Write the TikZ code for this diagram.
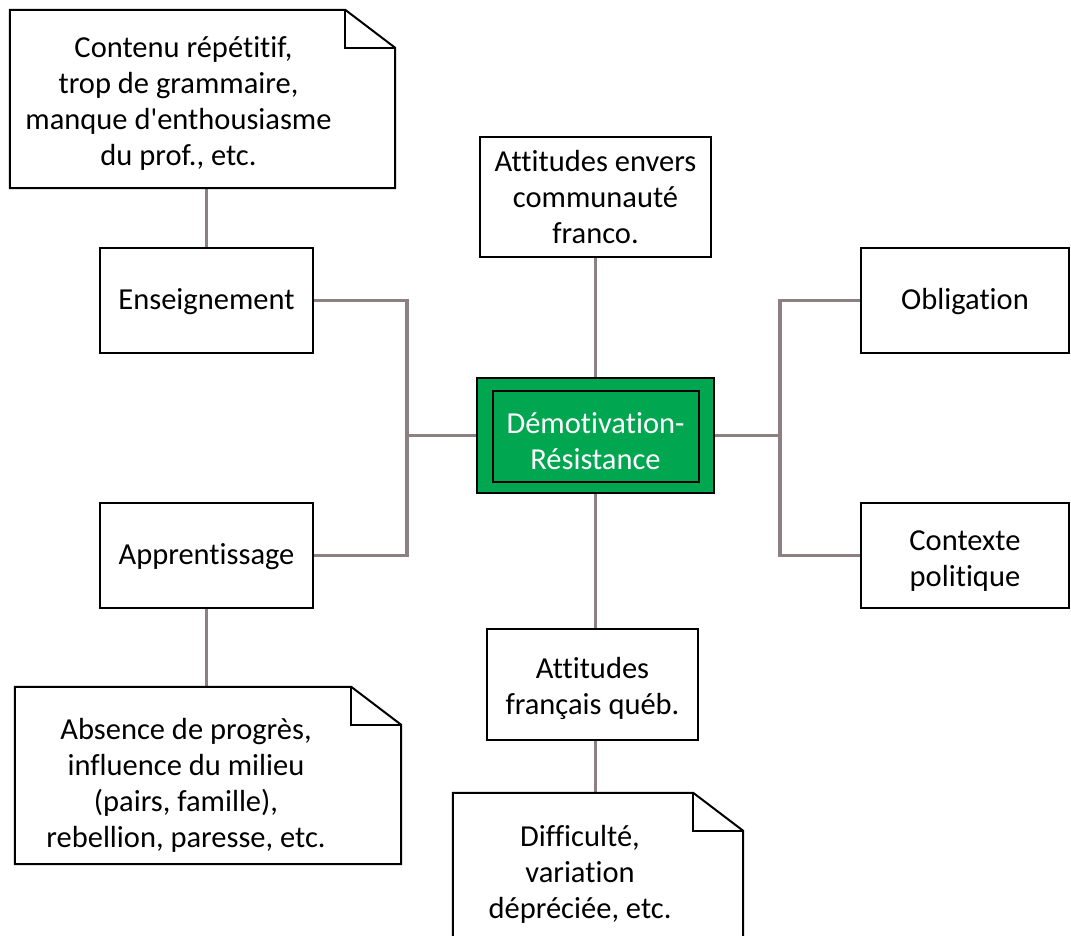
\documentclass[tikz,border=0pt]{standalone}
\usepackage{fontspec}
\setmainfont{Carlito}[Ligatures={NoCommon}]
\usetikzlibrary{positioning,backgrounds}
\definecolor{linkgray}{RGB}{140,128,130}
\definecolor{demgreen}{RGB}{0,166,80}

% dog-eared outline round a note node
\newcommand{\dogear}[1]{%
  \draw[boxline, fill=white] (#1.north west) -- ([xshift=-50pt]#1.north east)
    -- ([yshift=-38pt]#1.north east) -- (#1.south east) -- (#1.south west) -- cycle;
  \draw[boxline] ([xshift=-50pt]#1.north east) |- ([yshift=-38pt]#1.north east);
}
% extra room above the first line of a box
\newcommand{\boxstrut}{\rule{0pt}{30pt}}

\begin{document}
\begin{tikzpicture}[
    x=1pt, y=-1pt,
    font=\fontsize{30.5}{36}\selectfont,
    boxline/.style={draw=black, line width=2pt, line join=miter},
    box/.style={rectangle, boxline, fill=white, inner sep=0pt, align=center},
    notebox/.style={rectangle, inner sep=0pt, align=center},
    notetext/.style={align=center, inner sep=0pt},
    link/.style={draw=linkgray, line width=3.5pt}
]
    \useasboundingbox (0,0) rectangle (1071,936);

    % centre
    \node[box, fill=demgreen, minimum width=237pt, minimum height=115pt] (dem) at (595.5,435.5) {};
    \node[box, fill=demgreen, minimum width=206pt, minimum height=91pt, text=white] (deminner) at ([yshift=-1pt]dem) {\boxstrut Démotivation-\\Résistance};

    % left branch
    \node[box, minimum width=213pt, minimum height=105pt] (ens) at (206.5,300.5) {\rule{0pt}{24pt}Enseignement};
    \node[box, minimum width=213pt, minimum height=105pt] (appr) at (206.5,555.5) {\rule{0pt}{24pt}Apprentissage};

    % right branch
    \node[box, minimum width=208pt, minimum height=105pt] (obl) at (965,300.5) {\rule{0pt}{24pt}Obligation};
    \node[box, minimum width=208pt, minimum height=105pt] (ctx) at (965,555.5) {\boxstrut Contexte\\politique};

    % top and bottom
    \node[box, minimum width=231pt, minimum height=120pt] (attenv) at (595.5,197) {Attitudes envers\\communauté\\franco.};
    \node[box, minimum width=211pt, minimum height=111pt] (attfr) at (592.5,684.5) {\boxstrut Attitudes\\français québ.};

    % notes
    \node[notebox, minimum width=385pt, minimum height=178pt] (notecont) at (202.5,99) {};
    \dogear{notecont}
    \node[notetext] (notecontt) at ([xshift=-24pt, yshift=-4pt]notecont) {\hspace*{10pt}Contenu répétitif,\\trop de grammaire,\\manque d\textquotesingle enthousiasme\\du prof., etc.};

    \node[notebox, minimum width=386pt, minimum height=177pt] (noteabs) at (208,775.5) {};
    \dogear{noteabs}
    \node[notetext] (noteabst) at ([xshift=-22pt, yshift=-10pt]noteabs) {Absence de progrès,\\influence du milieu\\(pairs, famille),\hspace*{8pt}\\rebellion, paresse, etc.};

    \node[notebox, minimum width=290pt, minimum height=156pt] (notediff) at (598,871) {};
    \dogear{notediff}
    \node[notetext] (notedifft) at ([xshift=-18pt, yshift=-3pt]notediff) {Difficulté,\\variation\\dépréciée, etc.};

    % connectors
    \begin{scope}[on background layer]
        \coordinate (jl) at (407,435.5);
        \coordinate (jr) at (780,435.5);
        \draw[link] (ens.east) -| (jl) |- (appr.east);
        \draw[link] (jl) -- (dem.west);
        \draw[link] (obl.west) -| (jr) |- (ctx.west);
        \draw[link] (jr) -- (dem.east);
        \draw[link] (attenv.south) -- (dem.north);
        \draw[link] (dem.south) -- (dem.south |- attfr.north);
        \draw[link] ([xshift=3pt]attfr.south) -- ([xshift=3pt]attfr.south |- notediff.north);
        \draw[link] (notecont.south -| ens.north) -- (ens.north);
        \draw[link] (appr.south) -- (appr.south |- noteabs.north);
    \end{scope}
\end{tikzpicture}
\end{document}
